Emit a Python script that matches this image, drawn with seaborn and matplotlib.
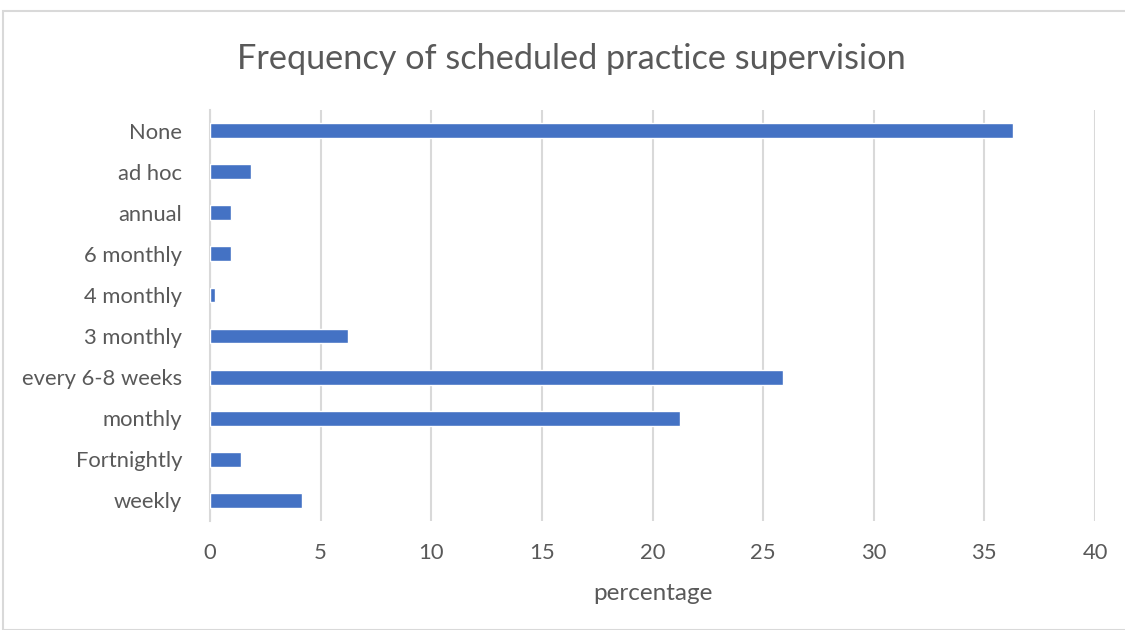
import matplotlib
matplotlib.use("Agg")
import matplotlib.pyplot as plt
import seaborn as sns
import pandas as pd
from matplotlib.patches import Rectangle

categories = ["None", "ad hoc", "annual", "6 monthly", "4 monthly", "3 monthly",
              "every 6-8 weeks", "monthly", "Fortnightly", "weekly"]
percentages = [36.3, 1.85, 0.93, 0.93, 0.23, 6.25, 25.9, 21.25, 1.4, 4.17]
x_ticks = [0, 5, 10, 15, 20, 25, 30, 35, 40]

df = pd.DataFrame({"category": categories, "percentage": percentages})

sns.set_theme(style="white")
plt.rcParams["font.family"] = ["Lato", "DejaVu Sans"]

text_color = "#595959"
grid_color = "#d9d9d9"

fig = plt.figure(figsize=(11.25, 6.3), dpi=100)
ax = fig.add_axes([210 / 1125, 1 - 521 / 630, 885 / 1125, 411 / 630])

sns.barplot(data=df, x="percentage", y="category", order=categories,
            color="#4472C4", saturation=1, width=0.36, ax=ax, zorder=3)

ax.set_xlim(0, 40)
ax.set_xticks(x_ticks)
ax.set_xticklabels([str(t) for t in x_ticks])
ax.xaxis.grid(True, color=grid_color, linewidth=1.5, zorder=0)
ax.yaxis.grid(False)
for side in ["top", "right", "bottom"]:
    ax.spines[side].set_visible(False)
ax.spines["left"].set_color(grid_color)
ax.spines["left"].set_linewidth(1.5)
ax.tick_params(axis="both", length=0, labelsize=15.8, labelcolor=text_color)
ax.tick_params(axis="y", pad=20)
ax.tick_params(axis="x", pad=16)
ax.set_ylabel("")
ax.set_xlabel("percentage", fontsize=17.5, color=text_color, labelpad=14)

fig.text(571 / 1125, 1 - 59 / 630, "Frequency of scheduled practice supervision",
         ha="center", va="center", fontsize=24.7, color=text_color)

# chart frame
fig.patches.append(Rectangle((3 / 1125, 0), 1.2, 1 - 11 / 630,
                             transform=fig.transFigure, fill=False,
                             edgecolor=grid_color, linewidth=1.5))

fig.savefig("out.png", dpi=100, facecolor="white")
